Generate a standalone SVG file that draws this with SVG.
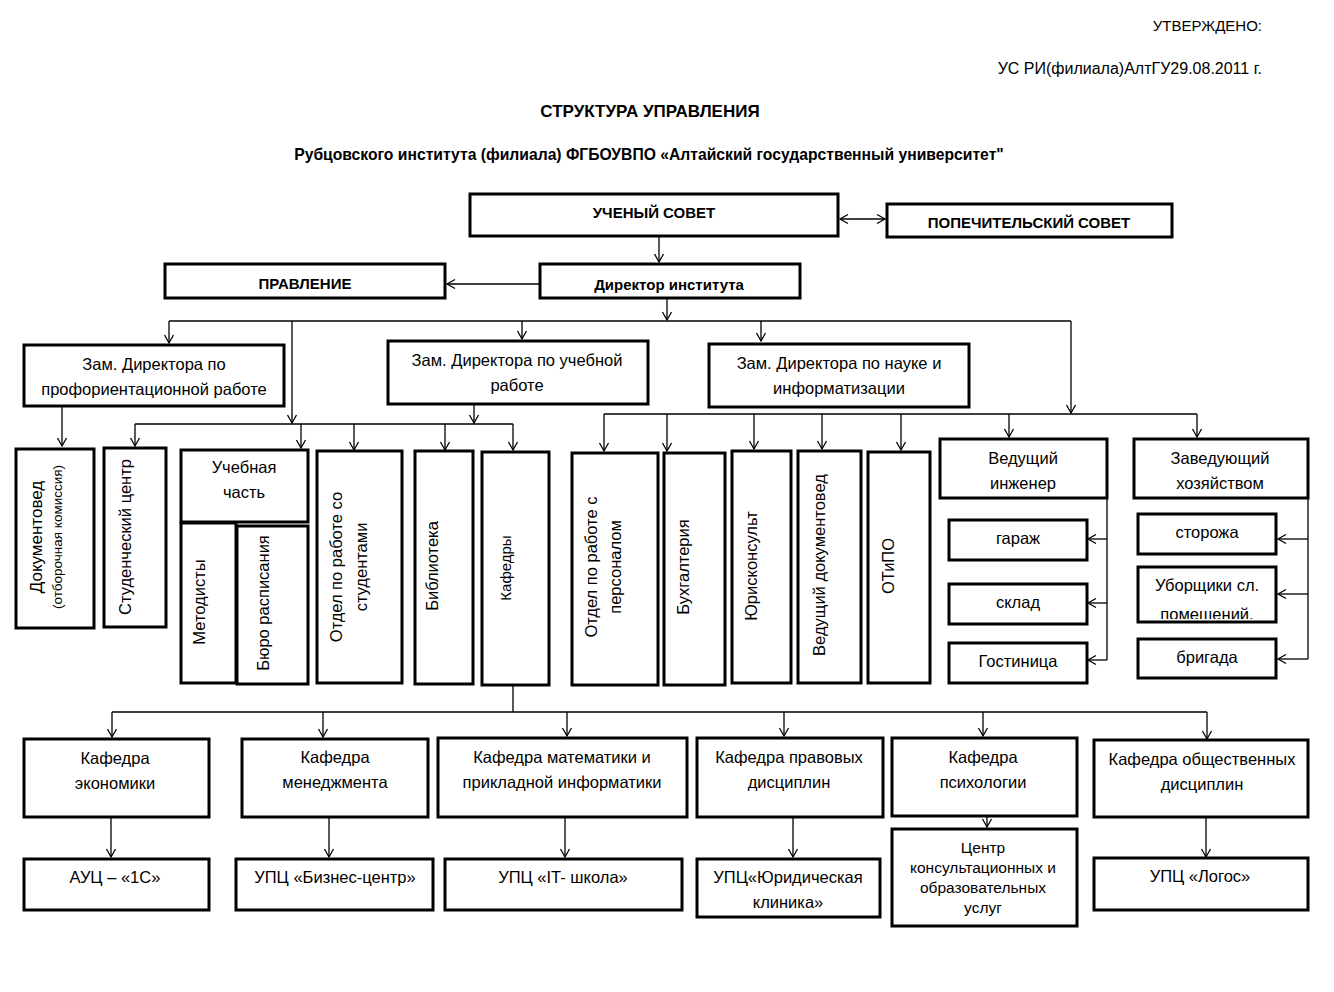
<svg xmlns="http://www.w3.org/2000/svg" width="1334" height="992" viewBox="0 0 1334 992">
<style>
.box{fill:#fff;stroke:#000;stroke-width:3}
.ln{fill:none;stroke:#000;stroke-width:1.3}
.ar{marker-end:url(#arr)}
text{font-family:"Liberation Sans",Arial,sans-serif;fill:#000}
.t{font-size:16.5px;text-anchor:middle}
.b{font-size:15px;font-weight:bold;text-anchor:middle}
.r{font-size:16.5px;text-anchor:middle}
</style>
<defs>
<marker id="arr" markerUnits="userSpaceOnUse" markerWidth="12" markerHeight="12" refX="9" refY="5" orient="auto-start-reverse" viewBox="0 0 12 10">
<path d="M1,0.5 L9,5 L1,9.5" fill="none" stroke="#000" stroke-width="1.3"/>
</marker>
<clipPath id="clipUb"><rect x="1138" y="567" width="138" height="52"/></clipPath>
</defs>
<rect width="1334" height="992" fill="#fff"/>

<g id="header">
<text x="1262" y="31" style="font-size:15px;text-anchor:end">УТВЕРЖДЕНО:</text>
<text x="1262" y="74" style="font-size:16px;text-anchor:end">УС РИ(филиала)АлтГУ29.08.2011  г.</text>
<text x="650" y="117" style="font-size:17px;font-weight:bold;text-anchor:middle">СТРУКТУРА УПРАВЛЕНИЯ</text>
<text x="649" y="160" style="font-size:15.7px;font-weight:bold;text-anchor:middle">Рубцовского института (филиала) ФГБОУВПО «Алтайский государственный университет"</text>
</g>

<g id="connectors">
<path class="ln ar" d="M659,237 V262"/>
<path class="ln ar" d="M539,284 H447"/>
<path class="ln ar" d="M667,299 V320"/>
<path class="ln" d="M169,321 H1071"/>
<path class="ln ar" d="M169,321 V343"/>
<path class="ln ar" d="M292,321 V423"/>
<path class="ln ar" d="M522,321 V339"/>
<path class="ln ar" d="M761,321 V341"/>
<path class="ln ar" d="M1071,321 V413"/>
<path class="ln ar" d="M840,219 H885" marker-start="url(#arr)"/>
<path class="ln ar" d="M62,407 V446"/>
<path class="ln" d="M135,424 H513"/>
<path class="ln ar" d="M474,405 V423"/>
<path class="ln ar" d="M135,424 V446"/>
<path class="ln ar" d="M301,424 V448"/>
<path class="ln ar" d="M354,424 V450"/>
<path class="ln ar" d="M445,424 V450"/>
<path class="ln ar" d="M513,424 V450"/>
<path class="ln" d="M604,414 H1197"/>
<path class="ln ar" d="M604,414 V451"/>
<path class="ln ar" d="M667,414 V451"/>
<path class="ln ar" d="M754,414 V449"/>
<path class="ln ar" d="M822,414 V449"/>
<path class="ln ar" d="M901,414 V450"/>
<path class="ln ar" d="M1009,414 V437"/>
<path class="ln ar" d="M1197,414 V437"/>
<path class="ln" d="M1107,499 V660"/>
<path class="ln ar" d="M1107,539 H1088"/>
<path class="ln ar" d="M1107,603 H1088"/>
<path class="ln ar" d="M1107,660 H1088"/>
<path class="ln" d="M1308,499 V659"/>
<path class="ln ar" d="M1308,539 H1278"/>
<path class="ln ar" d="M1308,594 H1278"/>
<path class="ln ar" d="M1308,659 H1278"/>
<path class="ln" d="M513,686 V712 M112,712 H1207"/>
<path class="ln ar" d="M112,712 V737"/>
<path class="ln ar" d="M323,712 V737"/>
<path class="ln ar" d="M567,712 V736"/>
<path class="ln ar" d="M784,712 V736"/>
<path class="ln ar" d="M983,712 V736"/>
<path class="ln ar" d="M1207,712 V739"/>
<path class="ln ar" d="M111,813 V857"/>
<path class="ln ar" d="M329,815 V857"/>
<path class="ln ar" d="M565,813 V857"/>
<path class="ln ar" d="M793,817 V857"/>
<path class="ln ar" d="M987,816 V827"/>
<path class="ln ar" d="M1206,817 V857"/>
</g>

<g id="uchenyi-sovet"><rect class="box" x="470" y="194" width="368" height="42"/><text class="b" x="654" y="218">УЧЕНЫЙ СОВЕТ</text></g>
<g id="popechitelskiy-sovet"><rect class="box" x="887" y="204" width="285" height="33"/><text class="b" x="1029" y="228">ПОПЕЧИТЕЛЬСКИЙ СОВЕТ</text></g>
<g id="pravlenie"><rect class="box" x="165" y="264" width="280" height="34"/><text class="b" x="305" y="289">ПРАВЛЕНИЕ</text></g>
<g id="direktor"><rect class="box" x="540" y="264" width="260" height="34"/><text class="b" x="669" y="290">Директор института</text></g>

<g id="zam-prof"><rect class="box" x="24" y="345" width="260" height="61"/><text class="t" x="154" y="370">Зам. Директора по</text><text class="t" x="154" y="395">профориентационной работе</text></g>
<g id="zam-ucheb"><rect class="box" x="388" y="341" width="260" height="63"/><text class="t" x="517" y="366">Зам. Директора по учебной</text><text class="t" x="517" y="391">работе</text></g>
<g id="zam-nauka"><rect class="box" x="709" y="344" width="260" height="63"/><text class="t" x="839" y="369">Зам. Директора по науке и</text><text class="t" x="839" y="394">информатизации</text></g>

<g id="dokumentoved"><rect class="box" x="16" y="449" width="78" height="179"/>
<text transform="translate(42,537) rotate(-90)" style="font-size:17px;text-anchor:middle">Документовед</text>
<text transform="translate(62,537) rotate(-90)" style="font-size:13.5px;text-anchor:middle">(отборочная комиссия)</text></g>
<g id="stud-centr"><rect class="box" x="104" y="448" width="62" height="179"/><text class="r" transform="translate(131,537) rotate(-90)">Студенческий центр</text></g>
<g id="uchebnaya-chast"><rect class="box" x="181" y="450" width="127" height="72"/><text class="t" x="244" y="473">Учебная</text><text class="t" x="244" y="498">часть</text></g>
<g id="metodisty"><rect class="box" x="181" y="523" width="55" height="160"/><text class="r" transform="translate(205,602) rotate(-90)">Методисты</text></g>
<g id="byuro"><rect class="box" x="237" y="526" width="71" height="158"/><text class="r" transform="translate(269,603) rotate(-90)">Бюро расписания</text></g>
<g id="otdel-stud"><rect class="box" x="317" y="451" width="85" height="232"/><text class="r" transform="translate(342,567) rotate(-90)">Отдел по работе со</text><text class="r" transform="translate(367,567) rotate(-90)">студентами</text></g>
<g id="biblioteka"><rect class="box" x="415" y="451" width="58" height="233"/><text class="r" transform="translate(438,566) rotate(-90)">Библиотека</text></g>
<g id="kafedry"><rect class="box" x="482" y="452" width="67" height="233"/><text transform="translate(511,568) rotate(-90)" style="font-size:15px;text-anchor:middle">Кафедры</text></g>
<g id="otdel-pers"><rect class="box" x="572" y="453" width="86" height="232"/><text class="r" transform="translate(597,567) rotate(-90)">Отдел по работе с</text><text class="r" transform="translate(621,567) rotate(-90)">персоналом</text></g>
<g id="buhgalteriya"><rect class="box" x="664" y="453" width="61" height="232"/><text class="r" transform="translate(689,567) rotate(-90)">Бухгалтерия</text></g>
<g id="yuriskonsult"><rect class="box" x="732" y="451" width="59" height="232"/><text class="r" transform="translate(757,566) rotate(-90)">Юрисконсульт</text></g>
<g id="ved-dokumentoved"><rect class="box" x="798" y="451" width="63" height="232"/><text class="r" transform="translate(825,565) rotate(-90)">Ведущий документовед</text></g>
<g id="otipo"><rect class="box" x="868" y="452" width="62" height="231"/><text class="r" transform="translate(894,566) rotate(-90)">ОТиПО</text></g>

<g id="ved-inzhener"><rect class="box" x="940" y="439" width="167" height="59"/><text class="t" x="1023" y="464">Ведущий</text><text class="t" x="1023" y="489">инженер</text></g>
<g id="garazh"><rect class="box" x="949" y="520" width="138" height="40"/><text class="t" x="1018" y="544">гараж</text></g>
<g id="sklad"><rect class="box" x="949" y="584" width="138" height="40"/><text class="t" x="1018" y="608">склад</text></g>
<g id="gostinica"><rect class="box" x="949" y="643" width="138" height="40"/><text class="t" x="1018" y="667">Гостиница</text></g>
<g id="zav-hoz"><rect class="box" x="1134" y="439" width="174" height="59"/><text class="t" x="1220" y="464">Заведующий</text><text class="t" x="1220" y="489">хозяйством</text></g>
<g id="storozha"><rect class="box" x="1138" y="514" width="138" height="40"/><text class="t" x="1207" y="538">сторожа</text></g>
<g id="uborshchiki"><rect class="box" x="1138" y="567" width="138" height="55"/><g clip-path="url(#clipUb)"><text class="t" x="1207" y="591">Уборщики сл.</text><text class="t" x="1207" y="620">помещений.</text></g></g>
<g id="brigada"><rect class="box" x="1138" y="639" width="138" height="39"/><text class="t" x="1207" y="663">бригада</text></g>

<g id="kaf-ekon"><rect class="box" x="24" y="739" width="185" height="78"/><text class="t" x="115" y="764">Кафедра</text><text class="t" x="115" y="789">экономики</text></g>
<g id="kaf-men"><rect class="box" x="242" y="739" width="186" height="78"/><text class="t" x="335" y="763">Кафедра</text><text class="t" x="335" y="788">менеджмента</text></g>
<g id="kaf-mat"><rect class="box" x="438" y="738" width="249" height="79"/><text class="t" x="562" y="763">Кафедра математики и</text><text class="t" x="562" y="788">прикладной информатики</text></g>
<g id="kaf-prav"><rect class="box" x="697" y="738" width="186" height="79"/><text class="t" x="789" y="763">Кафедра правовых</text><text class="t" x="789" y="788">дисциплин</text></g>
<g id="kaf-psih"><rect class="box" x="892" y="738" width="185" height="78"/><text class="t" x="983" y="763">Кафедра</text><text class="t" x="983" y="788">психологии</text></g>
<g id="kaf-obsh"><rect class="box" x="1094" y="740" width="214" height="77"/><text class="t" x="1202" y="765">Кафедра общественных</text><text class="t" x="1202" y="790">дисциплин</text></g>

<g id="auc"><rect class="box" x="24" y="859" width="185" height="51"/><text class="t" x="115" y="883">АУЦ – «1С»</text></g>
<g id="upc-biz"><rect class="box" x="236" y="859" width="197" height="51"/><text class="t" x="335" y="883">УПЦ «Бизнес-центр»</text></g>
<g id="upc-it"><rect class="box" x="445" y="859" width="237" height="51"/><text class="t" x="563" y="883">УПЦ «IT- школа»</text></g>
<g id="upc-yur"><rect class="box" x="697" y="859" width="183" height="58"/><text class="t" x="788" y="883">УПЦ«Юридическая</text><text class="t" x="788" y="908">клиника»</text></g>
<g id="centr-kons"><rect class="box" x="892" y="829" width="185" height="97"/><text class="t" x="983" y="853" style="font-size:15.5px">Центр</text><text class="t" x="983" y="873" style="font-size:15.5px">консультационных и</text><text class="t" x="983" y="893" style="font-size:15.5px">образовательных</text><text class="t" x="983" y="913" style="font-size:15.5px">услуг</text></g>
<g id="upc-logos"><rect class="box" x="1094" y="858" width="214" height="52"/><text class="t" x="1200" y="882">УПЦ «Логос»</text></g>
</svg>
